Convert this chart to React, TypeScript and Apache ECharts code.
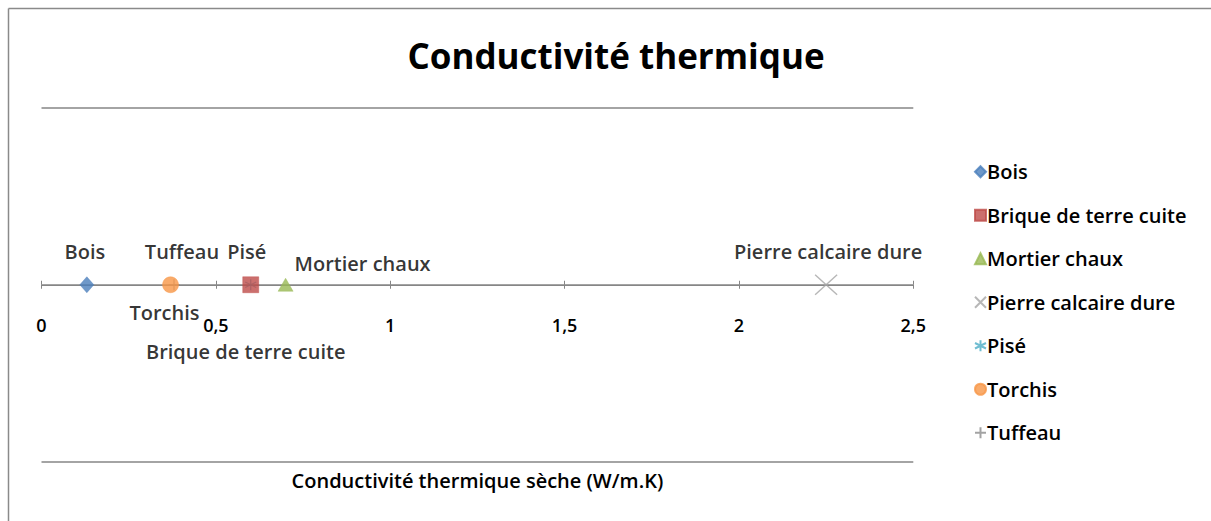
import React, { useEffect, useRef } from "react";
import * as echarts from "echarts";

const materials = ["Bois", "Brique de terre cuite", "Mortier chaux", "Pierre calcaire dure", "Pisé", "Torchis", "Tuffeau"];
const conductivity = [0.13, 0.6, 0.7, 2.25, 0.6, 0.37, 0.38];
const yLevel = [0, 0, 0, 0, 0, 0, 0];
const xMin = 0;
const xMax = 2.5;
const xStep = 0.5;

const FONT = "'Open Sans', 'Liberation Sans', sans-serif";

const styles: Record<string, any> = {
  "Bois": { symbol: "diamond", size: [14, 16], color: "#4A7EBB", label: [-2, -33] },
  "Brique de terre cuite": { symbol: "rect", size: 16, color: "#BE4B48", label: [-5, 67] },
  "Mortier chaux": { symbol: "triangle", size: [15, 13], color: "#98B954", label: [77, -21] },
  "Pierre calcaire dure": { symbol: "path://M0,0L10,10M10,0L0,10", size: [22, 20], color: "#A5A5A5", stroke: true, label: [2, -33] },
  "Pisé": { symbol: "path://M5,0L5,10M0,2.5L10,7.5M0,7.5L10,2.5", size: 11, color: "#4BACC6", stroke: true, label: [-4, -33], z: 1 },
  "Torchis": { symbol: "circle", size: 16, color: "#F79646", label: [-6, 28] },
  "Tuffeau": { symbol: "path://M5,0L5,10M0,5L10,5", size: 11, color: "#8C8C8C", stroke: true, label: [8, -33], z: 1 },
};

const GRID_TOP = 107.5;
const GRID_BOTTOM = 59;
const CHART_H = 521;
const ZERO_OFFSET = -((CHART_H - GRID_BOTTOM) - (GRID_TOP + (CHART_H - GRID_BOTTOM)) / 2);

export default function App() {
  const ref = useRef<HTMLDivElement>(null);
  useEffect(() => {
    document.body.style.margin = "0";
    const chart = echarts.init(ref.current!, undefined, { renderer: "svg" });
    const series = materials.map((name, i) => {
      const s = styles[name];
      return {
        name,
        type: "scatter",
        xAxisIndex: 0,
        data: [[conductivity[i], yLevel[i]]],
        symbol: s.symbol,
        symbolSize: s.size,
        z: s.z ?? 3,
        itemStyle: s.stroke
          ? { color: s.color, borderColor: s.color, borderWidth: 1.3 }
          : { color: s.color, borderColor: s.color, borderWidth: 0.5 },
        label: {
          show: true,
          formatter: name,
          position: "inside",
          offset: s.label,
          align: "center",
          verticalAlign: "middle",
          fontFamily: FONT,
          fontSize: 20,
          fontWeight: 600,
          color: "#000",
        },
      };
    });
    chart.setOption({
      animation: false,
      backgroundColor: "#fff",
      title: {
        text: "Conductivité thermique",
        left: 611,
        textAlign: "center",
        top: 33,
        textStyle: { fontFamily: FONT, fontSize: 35, fontWeight: "bold", color: "#000" },
      },
      legend: {
        orient: "vertical",
        left: 969,
        top: 153,
        itemWidth: 11,
        itemHeight: 11,
        itemGap: 16,
        data: materials,
        textStyle: { fontFamily: FONT, fontSize: 20, fontWeight: 600, color: "#000", lineHeight: 27.5, padding: [0, 0, 0, -4] },
      },
      grid: { left: 41.5, right: 297.7, top: GRID_TOP, bottom: GRID_BOTTOM, outerBoundsMode: "none", containLabel: false },
      xAxis: [
        {
          type: "value",
          min: xMin,
          max: xMax,
          interval: xStep,
          offset: ZERO_OFFSET,
          axisLine: { onZero: false, lineStyle: { color: "#868686", width: 1 } },
          axisTick: { show: true, length: 4, lineStyle: { color: "#868686" } },
          axisLabel: {
            margin: 31,
            fontFamily: FONT,
            fontSize: 18,
            fontWeight: 600,
            color: "#000",
            formatter: (v: number) => String(v).replace(".", ","),
          },
          splitLine: { show: false },
          name: "Conductivité thermique sèche (W/m.K)",
          nameLocation: "middle",
          nameGap: 186,
          nameTextStyle: { fontFamily: FONT, fontSize: 20, fontWeight: 600, color: "#000" },
        },
        {
          type: "value",
          position: "bottom",
          min: xMin,
          max: xMax,
          interval: xStep,
          offset: ZERO_OFFSET,
          axisLine: { onZero: false, lineStyle: { color: "#868686", width: 1 } },
          axisTick: { show: true, inside: true, length: 4, lineStyle: { color: "#868686" } },
          axisLabel: { show: false },
          splitLine: { show: false },
        },
      ],
      yAxis: {
        type: "value",
        min: -1,
        max: 1,
        interval: 1,
        axisLine: { show: false },
        axisTick: { show: false },
        axisLabel: { show: false },
        splitLine: { show: true, lineStyle: { color: "#868686", width: 1.5 } },
      },
      graphic: [
        {
          type: "line",
          shape: { x1: 8.5, y1: 8.5, x2: 1211, y2: 8.5 },
          style: { stroke: "#8a8a8a", lineWidth: 1.5 },
          silent: true,
        },
        {
          type: "line",
          shape: { x1: 8.5, y1: 8.5, x2: 8.5, y2: 521 },
          style: { stroke: "#8a8a8a", lineWidth: 1.5 },
          silent: true,
        },
      ],
      series,
    });
    return () => chart.dispose();
  }, []);
  return <div ref={ref} style={{ width: 1211, height: 521 }} />;
}
